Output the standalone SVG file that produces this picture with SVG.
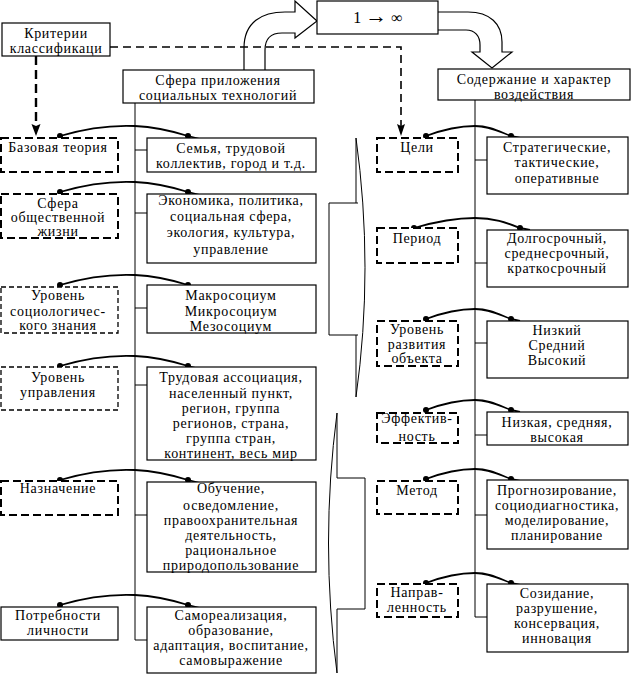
<svg xmlns="http://www.w3.org/2000/svg" width="634" height="676" viewBox="0 0 634 676">
<style>
text{font-family:'Liberation Serif','DejaVu Serif',serif;font-size:14px;letter-spacing:0.7px;fill:#000;text-anchor:middle}
.box{fill:#fff;stroke:#000;stroke-width:1.2}
.dbox{fill:#fff;stroke:#000;stroke-width:2;stroke-dasharray:8 4}
.tbox{fill:#fff;stroke:#000;stroke-width:1.3;stroke-dasharray:5 3}
.ln{fill:none;stroke:#000;stroke-width:1}
.cv{fill:none;stroke:#000;stroke-width:1.8}
.dash{fill:none;stroke:#000;stroke-width:1.6;stroke-dasharray:8 5}
.dashv{fill:none;stroke:#000;stroke-width:2.4;stroke-dasharray:9 5}
.dot{fill:#000}
</style>
<defs>
<g id="lc"><path class="cv" d="M60,0 C90,-9 112,-11 135,-10 C157,-9 172,-5 188,0 L200,3"/><circle class="dot" cx="60" cy="0" r="3"/><circle class="dot" cx="188" cy="0" r="3"/></g>
<g id="rc"><path class="cv" d="M426,0 C442,-6 458,-10 475,-10 C490,-10 500,-4 511,0 L520,2"/><circle class="dot" cx="426" cy="0" r="3"/><circle class="dot" cx="511" cy="0" r="3"/></g>
</defs>

<g id="connectors">
<path class="ln" d="M135,103 V640"/>
<path class="ln" d="M475,100 V617"/>
<path class="ln" d="M135,150 H147 M135,213 H147 M135,308 H147 M135,385 H147 M135,515 H147 M135,640 H147"/>
<path class="ln" d="M475,160 H487 M475,263 H487 M475,343 H487 M475,435 H487 M475,515 H487 M475,617 H487"/>
<path class="dash" d="M110,47 H401 V126"/>
<path class="dashv" d="M36,56 V126"/>
<path d="M401,126 l-4,-2 4,12 4,-12 z" fill="#000"/>
<path d="M36,126 l-4.5,-2 4.5,12 4.5,-12 z" fill="#000"/>
<path fill="none" stroke="#000" stroke-width="1.2" d="M244,70 V48 C244,22 262,12 285,12 H295 V1 L317,21 L295,38 V33 H282 C272,33 265,38 265,50 V70"/>
<path fill="none" stroke="#000" stroke-width="1.2" d="M438,12 H468 C490,12 502,24 502,42 V52 H512 L492,68 L472,52 H480 V45 C480,36 475,30 466,30 H438"/>
<use href="#lc" transform="translate(0,136)"/>
<use href="#lc" transform="translate(0,192)"/>
<use href="#lc" transform="translate(0,285)"/>
<use href="#lc" transform="translate(0,366)"/>
<use href="#lc" transform="translate(0,480)"/>
<use href="#lc" transform="translate(0,605)"/>
<use href="#rc" transform="translate(0,136)"/>
<g transform="translate(0,228)"><path class="cv" d="M414,0 C438,-7 455,-10 475,-10 C495,-10 507,-5 520,0 L530,2"/><circle class="dot" cx="414" cy="0" r="3"/><circle class="dot" cx="520" cy="0" r="3"/></g>
<use href="#rc" transform="translate(0,319)"/>
<use href="#rc" transform="translate(0,410)"/>
<use href="#rc" transform="translate(0,479)"/>
<use href="#rc" transform="translate(0,583)"/>
<path class="ln" d="M356,138 Q374,268 356,397 M356,138 V203 M356,335 V397 M358,203 H329 V335 H358"/>
<path class="ln" d="M337,413 Q320,543 337,673 M337,413 V478 M337,609 V673 M337,478 H365 V609 H337"/>
</g>

<g id="n-criteria"><rect class="box" x="2" y="23" width="108" height="33"/><text x="56" y="38">Критерии</text><text x="56" y="53">классификаци</text></g>
<g id="n-sphere"><rect class="box" x="123" y="70" width="191" height="33"/><text x="218" y="85">Сфера приложения</text><text x="218" y="100">социальных технологий</text></g>
<g id="n-inf"><rect class="box" x="317" y="1" width="121" height="33"/><text x="378" y="23" style="font-size:16px;letter-spacing:0">1 <tspan style="font-size:22px">→</tspan> ∞</text></g>
<g id="n-content"><rect class="box" x="438" y="69" width="192" height="31"/><text x="534" y="84">Содержание и характер</text><text x="534" y="99">воздействия</text></g>

<g id="n-l1"><rect class="dbox" x="1" y="138" width="117" height="34"/><text x="58" y="152">Базовая теория</text></g>
<g id="n-r1"><rect class="box" x="147" y="138" width="169" height="34"/><text x="231" y="153">Семья, трудовой</text><text x="231" y="168">коллектив, город и т.д.</text></g>

<g id="n-l2"><rect class="dbox" x="1" y="194" width="117" height="44"/><text x="58" y="208">Сфера</text><text x="58" y="222">общественной</text><text x="58" y="236">жизни</text></g>
<g id="n-r2"><rect class="box" x="147" y="194" width="169" height="69"/><text x="231" y="205">Экономика, политика,</text><text x="231" y="221">социальная сфера,</text><text x="231" y="237">экология, культура,</text><text x="231" y="254">управление</text></g>

<g id="n-l3"><rect class="tbox" x="1" y="287" width="117" height="46"/><text x="58" y="300">Уровень</text><text x="58" y="316">социологичес-</text><text x="58" y="330">кого знания</text></g>
<g id="n-r3"><rect class="box" x="147" y="285" width="169" height="48"/><text x="231" y="300">Макросоциум</text><text x="231" y="316">Микросоциум</text><text x="231" y="331">Мезосоциум</text></g>

<g id="n-l4"><rect class="tbox" x="1" y="367" width="117" height="43"/><text x="58" y="382">Уровень</text><text x="58" y="397">управления</text></g>
<g id="n-r4"><rect class="box" x="147" y="367" width="169" height="93"/><text x="231" y="382">Трудовая ассоциация,</text><text x="231" y="398">населенный пункт,</text><text x="231" y="413">регион, группа</text><text x="231" y="428">регионов, страна,</text><text x="231" y="443">группа стран,</text><text x="231" y="458">континент, весь мир</text></g>

<g id="n-l5"><rect class="dbox" x="1" y="481" width="117" height="34"/><text x="58" y="493">Назначение</text></g>
<g id="n-r5"><rect class="box" x="147" y="482" width="169" height="90"/><text x="231" y="493">Обучение,</text><text x="231" y="510">осведомление,</text><text x="231" y="525">правоохранительная</text><text x="231" y="540">деятельность,</text><text x="231" y="555">рациональное</text><text x="231" y="570">природопользование</text></g>

<g id="n-l6"><rect class="box" x="1" y="607" width="117" height="33"/><text x="58" y="620">Потребности</text><text x="58" y="635">личности</text></g>
<g id="n-r6"><rect class="box" x="147" y="607" width="169" height="66"/><text x="231" y="620">Самореализация,</text><text x="231" y="635">образование,</text><text x="231" y="650">адаптация, воспитание,</text><text x="231" y="665">самовыражение</text></g>

<g id="n-d1"><rect class="dbox" x="377" y="138" width="81" height="34"/><text x="417" y="152">Цели</text></g>
<g id="n-e1"><rect class="box" x="487" y="137" width="141" height="57"/><text x="557" y="152">Стратегические,</text><text x="557" y="167">тактические,</text><text x="557" y="183">оперативные</text></g>

<g id="n-d2"><rect class="dbox" x="377" y="228" width="81" height="35"/><text x="417" y="243">Период</text></g>
<g id="n-e2"><rect class="box" x="487" y="230" width="141" height="57"/><text x="557" y="243">Долгосрочный,</text><text x="557" y="258">среднесрочный,</text><text x="557" y="273">краткосрочный</text></g>

<g id="n-d3"><rect class="dbox" x="377" y="321" width="81" height="45"/><text x="417" y="334">Уровень</text><text x="417" y="349">развития</text><text x="417" y="363">объекта</text></g>
<g id="n-e3"><rect class="box" x="487" y="321" width="141" height="57"/><text x="557" y="335">Низкий</text><text x="557" y="350">Средний</text><text x="557" y="365">Высокий</text></g>

<g id="n-d4"><rect class="dbox" x="377" y="413" width="81" height="30"/><text x="417" y="423">Эффектив-</text><text x="417" y="441">ность</text></g>
<g id="n-e4"><rect class="box" x="487" y="412" width="141" height="33"/><text x="557" y="427">Низкая, средняя,</text><text x="557" y="442">высокая</text></g>

<g id="n-d5"><rect class="dbox" x="377" y="481" width="81" height="33"/><text x="417" y="495">Метод</text></g>
<g id="n-e5"><rect class="box" x="487" y="480" width="141" height="69"/><text x="557" y="495">Прогнозирование,</text><text x="557" y="510">социодиагностика,</text><text x="557" y="525">моделирование,</text><text x="557" y="540">планирование</text></g>

<g id="n-d6"><rect class="dbox" x="377" y="584" width="81" height="33"/><text x="417" y="597">Направ-</text><text x="417" y="612">ленность</text></g>
<g id="n-e6"><rect class="box" x="487" y="584" width="141" height="68"/><text x="557" y="598">Созидание,</text><text x="557" y="613">разрушение,</text><text x="557" y="628">консервация,</text><text x="557" y="643">инновация</text></g>
</svg>
